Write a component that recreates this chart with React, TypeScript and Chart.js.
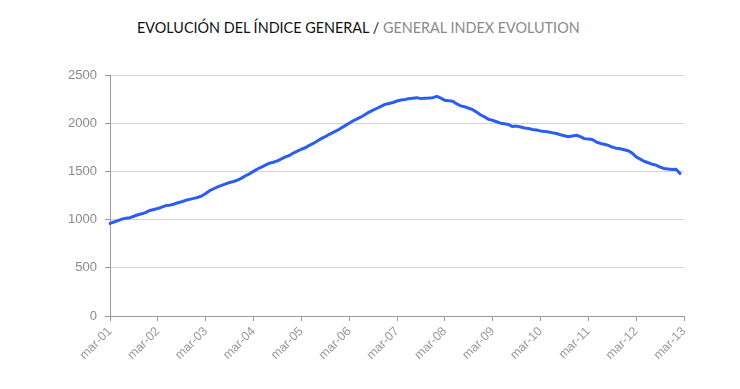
import React, { useEffect, useRef } from "react";
import { Chart, registerables } from "chart.js";

Chart.register(...registerables);

const monthNames = ["mar", "abr", "may", "jun", "jul", "ago", "sep", "oct", "nov", "dic", "ene", "feb"];
const startYear = 2001;
const endYear = 2013;

// Monthly index values, mar-01 .. feb-13
const indexValues = [
  960, 975, 990, 1005, 1015, 1020, 1035, 1050, 1060, 1075, 1095, 1105,
  1115, 1130, 1145, 1150, 1160, 1175, 1185, 1200, 1210, 1220, 1230, 1245,
  1270, 1300, 1320, 1340, 1355, 1370, 1385, 1395, 1410, 1430, 1455, 1475,
  1500, 1525, 1545, 1565, 1585, 1595, 1610, 1630, 1650, 1665, 1690, 1710,
  1730, 1745, 1770, 1790, 1815, 1840, 1860, 1885, 1905, 1925, 1950, 1975,
  2000, 2025, 2045, 2065, 2090, 2115, 2135, 2155, 2175, 2195, 2205, 2215,
  2230, 2240, 2245, 2255, 2260, 2265, 2255, 2260, 2262, 2265, 2278, 2260,
  2237, 2232, 2227, 2200, 2180, 2170, 2155, 2140, 2115, 2085, 2065, 2040,
  2030, 2015, 2000, 1995, 1985, 1965, 1970, 1960, 1950, 1945, 1935, 1930,
  1920, 1915, 1908, 1900, 1893, 1880, 1870, 1860, 1868, 1876, 1860, 1840,
  1836, 1830, 1805, 1790, 1782, 1770, 1752, 1740, 1735, 1725, 1715, 1690,
  1650, 1628, 1605, 1590, 1575, 1565, 1545, 1530, 1525, 1520, 1522, 1480,
];

const categories: string[] = [];
for (let y = startYear; y < endYear; y++) {
  monthNames.forEach((m, i) => {
    const yr = i < 10 ? y : y + 1;
    categories.push(m + "-" + String(yr % 100).padStart(2, "0"));
  });
}
categories.push("mar-" + String(endYear % 100).padStart(2, "0"));

const titleEs = "EVOLUCIÓN DEL ÍNDICE GENERAL / ";
const titleEn = "GENERAL INDEX EVOLUTION";

export default function App() {
  const ref = useRef<HTMLCanvasElement | null>(null);

  useEffect(() => {
    if (!ref.current) return;
    const chart = new Chart(ref.current, {
      type: "line",
      data: {
        labels: categories,
        datasets: [
          {
            data: indexValues,
            borderColor: "#2c5df2",
            borderWidth: 3,
            pointRadius: 0,
            tension: 0,
            fill: false,
            borderJoinStyle: "round",
            borderCapStyle: "round",
          },
        ],
      },
      options: {
        animation: false,
        responsive: false,
        events: [],
        layout: { padding: { left: 56, right: 56, top: 75, bottom: 8 } },
        plugins: { legend: { display: false }, tooltip: { enabled: false }, title: { display: false } },
        scales: {
          x: {
            type: "category",
            offset: false,
            afterFit: (s: any) => {
              s.height = 65;
            },
            border: { color: "#9a9a9a", width: 1 },
            grid: {
              drawOnChartArea: false,
              drawTicks: true,
              tickLength: 5,
              color: "#9a9a9a",
            },
            ticks: {
              autoSkip: false,
              maxRotation: 45,
              minRotation: 45,
              color: "#9a9a9a",
              font: { family: "Liberation Sans", size: 12.5 },
              padding: 3,
              callback: function (this: any, _v: any, i: number) {
                const l = categories[i];
                return l.startsWith("mar") ? l : null;
              },
            },
          },
          y: {
            min: 0,
            max: 2500,
            afterFit: (s: any) => {
              s.width = 54;
            },
            border: { color: "#9a9a9a", width: 1 },
            grid: {
              color: "#d4d4d4",
              lineWidth: 1,
              drawTicks: true,
              tickLength: 5,
              tickColor: "#9a9a9a",
            },
            ticks: {
              stepSize: 500,
              color: "#8a8a8a",
              font: { family: "Liberation Sans", size: 13 },
              padding: 8,
              callback: (v: any) => String(v),
            },
          },
        },
      },
    });
    return () => chart.destroy();
  }, []);

  return (
    <div style={{ position: "fixed", left: 0, top: 0, width: 740, height: 389, background: "#fff" }}>
      <div
        style={{
          position: "absolute",
          left: 137,
          top: 20,
          fontFamily: "Lato",
          fontSize: 14.4,
          whiteSpace: "nowrap",
          lineHeight: "16px",
        }}
      >
        <span style={{ color: "#111" }}>{titleEs}</span>
        <span style={{ color: "#8a8a8a" }}>{titleEn}</span>
      </div>
      <canvas ref={ref} width={740} height={389} style={{ position: "absolute", left: 0, top: 0 }} />
    </div>
  );
}
